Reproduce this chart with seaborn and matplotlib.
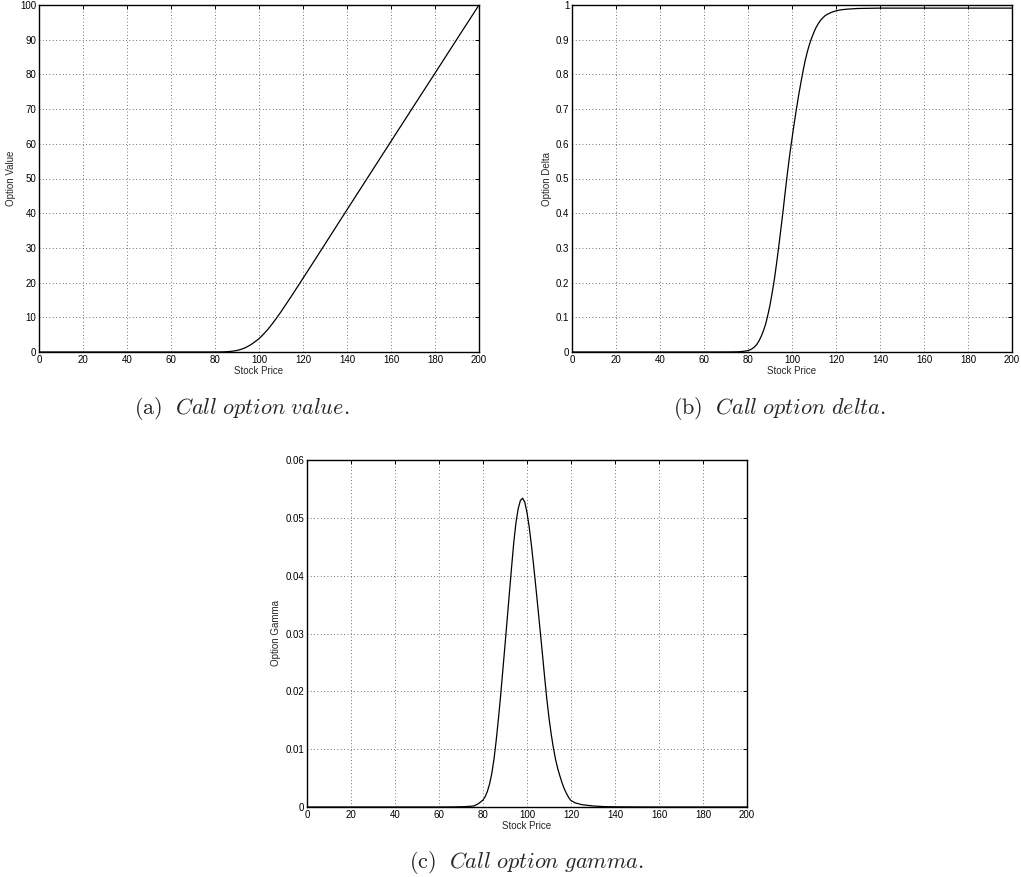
import numpy as np
import pandas as pd
import matplotlib
matplotlib.use("Agg")
import matplotlib.pyplot as plt
import seaborn as sns

# ---- data ----
price = ([0, 20, 40, 60, 65, 70, 72, 74]
         + list(range(75, 122))
         + [122, 125, 130, 135, 140, 150, 160, 170, 180, 190, 200])

option_value = ([0, 0, 0, 0, 0, 0, 0, 0]
                + [0, 0.0001, 0.0002, 0.0005, 0.001]
                + [0.002, 0.008, 0.016, 0.03, 0.048, 0.077, 0.115, 0.17, 0.24, 0.34]
                + [0.455, 0.62, 0.80, 1.04, 1.3, 1.64, 2.0, 2.42, 2.88, 3.36]
                + [3.85, 4.46, 5.1, 5.8, 6.5, 7.3, 8.1, 8.95, 9.8, 10.7]
                + [11.6, 12.55, 13.5, 14.45, 15.4, 16.35, 17.33, 18.3, 19.28, 20.26]
                + [21.24, 22.22]
                + [23.2, 26.15, 31.1, 36.05, 41.0, 50.85, 60.7, 70.55, 80.35, 90.2, 100.0])

option_delta = ([0, 0, 0, 0, 0, 0.0001, 0.0002, 0.0004]
                + [0.0005, 0.0008, 0.0013, 0.002, 0.003]
                + [0.004, 0.0065, 0.01, 0.015, 0.022, 0.032, 0.045, 0.061, 0.08, 0.106]
                + [0.135, 0.171, 0.21, 0.256, 0.305, 0.357, 0.41, 0.466, 0.52, 0.57]
                + [0.615, 0.659, 0.70, 0.739, 0.775, 0.809, 0.84, 0.866, 0.888, 0.906]
                + [0.922, 0.936, 0.947, 0.956, 0.963, 0.969, 0.973, 0.976, 0.979, 0.981]
                + [0.983, 0.9845]
                + [0.986, 0.988, 0.990, 0.9905, 0.991, 0.991, 0.991, 0.991, 0.991, 0.991, 0.991])

option_gamma = ([0, 0, 0, 0, 0.00001, 0.00004, 0.00007, 0.00012]
                + [0.00015, 0.0002, 0.0004, 0.0006, 0.0009]
                + [0.0012, 0.0018, 0.0027, 0.004, 0.0058, 0.0083, 0.0115, 0.0152, 0.0192, 0.0236]
                + [0.028, 0.0325, 0.037, 0.0415, 0.0458, 0.0492, 0.0516, 0.053, 0.0534, 0.0527]
                + [0.0509, 0.0484, 0.0453, 0.0418, 0.0381, 0.0343, 0.0304, 0.0265, 0.0225, 0.0187]
                + [0.0154, 0.0126, 0.0102, 0.0082, 0.0066, 0.0053, 0.0041, 0.0031, 0.0023, 0.0016]
                + [0.0011, 0.0009]
                + [0.0007, 0.0004, 0.00018, 0.00007, 0.00003, 0.00001, 0, 0, 0, 0, 0])

x_ticks = [0, 20, 40, 60, 80, 100, 120, 140, 160, 180, 200]
value_ticks = [0, 10, 20, 30, 40, 50, 60, 70, 80, 90, 100]
delta_ticks = [0, 0.1, 0.2, 0.3, 0.4, 0.5, 0.6, 0.7, 0.8, 0.9, 1]
delta_labels = ["0", "0.1", "0.2", "0.3", "0.4", "0.5", "0.6", "0.7", "0.8", "0.9", "1"]
gamma_ticks = [0, 0.01, 0.02, 0.03, 0.04, 0.05, 0.06]
gamma_labels = ["0", "0.01", "0.02", "0.03", "0.04", "0.05", "0.06"]

x_label = "Stock Price"
y_labels = ["Option Value", "Option Delta", "Option Gamma"]
captions = [r"$\mathrm{(a)}\ \ \mathit{Call\ option\ value.}$",
            r"$\mathrm{(b)}\ \ \mathit{Call\ option\ delta.}$",
            r"$\mathrm{(c)}\ \ \mathit{Call\ option\ gamma.}$"]

df = pd.DataFrame({"price": price, "value": option_value,
                   "delta": option_delta, "gamma": option_gamma})

# ---- style ----
sns.set_style("white")
plt.rcParams["font.family"] = ["Liberation Sans", "DejaVu Sans"]
plt.rcParams["mathtext.fontset"] = "cm"

W, H = 1021, 877
fig = plt.figure(figsize=(W / 100, H / 100), dpi=100)

def ax_at(left, top, right, bottom):
    return fig.add_axes([left / W, 1 - bottom / H, (right - left) / W, (bottom - top) / H])

axes = [ax_at(39, 5, 479, 352), ax_at(572, 5, 1012, 352), ax_at(307, 460, 747, 807)]
cols = ["value", "delta", "gamma"]
ylims = [(0, 100), (0, 1), (0, 0.06)]
yticks = [value_ticks, delta_ticks, gamma_ticks]
yticklabels = [[str(v) for v in value_ticks], delta_labels, gamma_labels]

for ax, col, yl, yt, ytl, ylab in zip(axes, cols, ylims, yticks, yticklabels, y_labels):
    sns.lineplot(data=df, x="price", y=col, ax=ax, color="black", linewidth=0.9)
    ax.set_xlim(0, 200)
    ax.set_ylim(*yl)
    ax.set_xticks(x_ticks)
    ax.set_xticklabels([str(t) for t in x_ticks])
    ax.set_yticks(yt)
    ax.set_yticklabels(ytl)
    ax.grid(True, color="#444444", linestyle=(0, (1, 3)), linewidth=0.6)
    ax.tick_params(direction="in", length=3, width=0.7, top=True, right=True,
                   labelsize=7, pad=2, colors="black")
    for s in ax.spines.values():
        s.set_visible(True)
        s.set_color("black")
        s.set_linewidth(1.0)
    ax.set_xlabel(x_label, fontsize=7, labelpad=1)
    ax.set_ylabel(ylab, fontsize=7, labelpad=3)

fig.text(242 / W, 1 - 409 / H, captions[0], ha="center", va="center", fontsize=16)
fig.text(779 / W, 1 - 409 / H, captions[1], ha="center", va="center", fontsize=16)
fig.text(527 / W, 1 - 862 / H, captions[2], ha="center", va="center", fontsize=16)

fig.savefig("out.png", dpi=100, facecolor="white")
